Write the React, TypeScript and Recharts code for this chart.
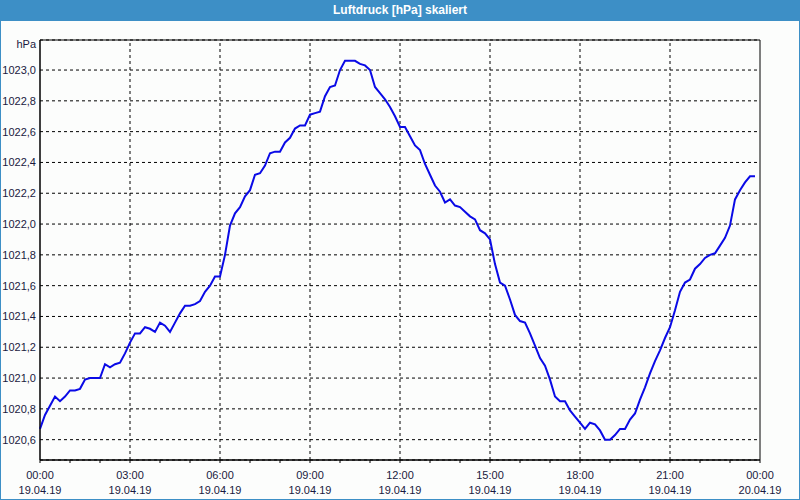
import React from 'react';
import {
  LineChart,
  Line,
  XAxis,
  YAxis,
  CartesianGrid,
  ReferenceLine,
  ReferenceArea,
} from 'recharts';

// pressure readings every 10 minutes, 19.04.19 00:00 .. 23:50
const pressure: number[] = [
  1020.67, 1020.76, 1020.82, 1020.88, 1020.85, 1020.88, 1020.92, 1020.92, 1020.93, 1020.99,
  1021.0, 1021.0, 1021.0, 1021.09, 1021.07, 1021.09, 1021.1, 1021.16, 1021.23, 1021.29,
  1021.29, 1021.33, 1021.32, 1021.3, 1021.36, 1021.34, 1021.3, 1021.36, 1021.42, 1021.47,
  1021.47, 1021.48, 1021.5, 1021.56, 1021.6, 1021.66, 1021.66, 1021.8, 1021.99, 1022.07,
  1022.11, 1022.18, 1022.22, 1022.32, 1022.33, 1022.38, 1022.46, 1022.47, 1022.47, 1022.53,
  1022.56, 1022.62, 1022.64, 1022.64, 1022.71, 1022.72, 1022.73, 1022.83, 1022.89, 1022.9,
  1023.0, 1023.06, 1023.06, 1023.06, 1023.04, 1023.03, 1023.0, 1022.89, 1022.85, 1022.81,
  1022.76, 1022.7, 1022.63, 1022.63, 1022.57, 1022.51, 1022.48, 1022.39, 1022.32, 1022.25,
  1022.21, 1022.14, 1022.16, 1022.12, 1022.11, 1022.08, 1022.05, 1022.03, 1021.96, 1021.94,
  1021.9, 1021.74, 1021.62, 1021.6, 1021.51, 1021.41, 1021.37, 1021.36, 1021.29, 1021.21,
  1021.13, 1021.08, 1020.99, 1020.88, 1020.85, 1020.85, 1020.79, 1020.75, 1020.71, 1020.67,
  1020.71, 1020.7, 1020.66, 1020.6, 1020.6, 1020.63, 1020.67, 1020.67, 1020.73, 1020.77,
  1020.86, 1020.94, 1021.03, 1021.11, 1021.18, 1021.26, 1021.33, 1021.44, 1021.56, 1021.62,
  1021.64, 1021.71, 1021.74, 1021.78, 1021.8, 1021.81, 1021.86, 1021.91, 1021.99, 1022.16,
  1022.22, 1022.27, 1022.31, 1022.31,
];

const stepMinutes = 10;
const hourTicks = Array.from({ length: 25 }, (_, i) => i * 60);
const gridTimes = [180, 360, 540, 720, 900, 1080, 1260];
const timeLabels: Record<number, [string, string]> = {
  0: ['00:00', '19.04.19'],
  180: ['03:00', '19.04.19'],
  360: ['06:00', '19.04.19'],
  540: ['09:00', '19.04.19'],
  720: ['12:00', '19.04.19'],
  900: ['15:00', '19.04.19'],
  1080: ['18:00', '19.04.19'],
  1260: ['21:00', '19.04.19'],
  1440: ['00:00', '20.04.19'],
};
const yTicks = [1020.6, 1020.8, 1021.0, 1021.2, 1021.4, 1021.6, 1021.8, 1022.0, 1022.2, 1022.4, 1022.6, 1022.8, 1023.0];
const yMin = 1020.468;
const yMax = 1023.195;

const data = pressure.map((p, i) => ({ t: i * stepMinutes, p }));

const font = '"Liberation Sans", Arial, sans-serif';
const textColor = '#1a1a40';

const TimeTick = (props: any) => {
  const { x, y, payload } = props;
  const lbl = timeLabels[payload.value];
  if (!lbl) return null;
  return (
    <g>
      <text x={x} y={y + 14} textAnchor="middle" fill={textColor} fontSize={11} fontFamily={font}>
        {lbl[0]}
      </text>
      <text x={x} y={y + 29} textAnchor="middle" fill={textColor} fontSize={11} fontFamily={font}>
        {lbl[1]}
      </text>
    </g>
  );
};

export default function App() {
  return (
    <div style={{ position: 'relative', width: 800, height: 500, background: '#fcfdfc', overflow: 'hidden' }}>
      <style>{'body{margin:0}'}</style>
      <div
        style={{
          position: 'absolute',
          left: 0,
          top: 0,
          width: 800,
          height: 21,
          background: '#3d8fc6',
          color: '#fff',
          fontFamily: font,
          fontWeight: 700,
          fontSize: 12,
          lineHeight: '21px',
          textAlign: 'center',
        }}
      >
        Luftdruck [hPa] skaliert
      </div>
      <div
        style={{
          position: 'absolute',
          right: 764,
          top: 38,
          fontFamily: font,
          fontSize: 11,
          color: textColor,
        }}
      >
        hPa
      </div>
      <div style={{ position: 'absolute', left: 0, top: 21 }}>
        <LineChart width={800} height={479} data={data} margin={{ top: 19, right: 40, bottom: 0, left: 0 }}>
          <CartesianGrid vertical={false} stroke="#000" strokeDasharray="3 3" />
          {gridTimes.map((t) => (
            <ReferenceLine key={t} x={t} stroke="#000" strokeDasharray="3 3" />
          ))}
          <ReferenceArea x1={0} x2={1440} y1={yMin} y2={yMax} fill="none" stroke="#000" strokeWidth={1} />
          <XAxis
            dataKey="t"
            type="number"
            domain={[0, 1440]}
            ticks={hourTicks}
            interval={0}
            height={40}
            tickSize={3}
            axisLine={{ stroke: '#000' }}
            tickLine={{ stroke: '#000' }}
            tick={<TimeTick />}
          />
          <YAxis
            type="number"
            domain={[yMin, yMax]}
            allowDataOverflow
            ticks={yTicks}
            interval={0}
            width={40}
            tickSize={0}
            tickMargin={4}
            tickLine={false}
            axisLine={{ stroke: '#000' }}
            tick={{ fill: textColor, fontSize: 11, fontFamily: font }}
            tickFormatter={(v: number) => v.toFixed(1).replace('.', ',')}
          />
          <Line
            type="linear"
            dataKey="p"
            stroke="#0a0ae6"
            strokeWidth={2}
            dot={false}
            isAnimationActive={false}
          />
        </LineChart>
      </div>
      <div
        style={{
          position: 'absolute',
          left: 0,
          top: 0,
          width: 800,
          height: 500,
          boxSizing: 'border-box',
          border: '1px solid #3d8fc6',
          pointerEvents: 'none',
        }}
      />
    </div>
  );
}
